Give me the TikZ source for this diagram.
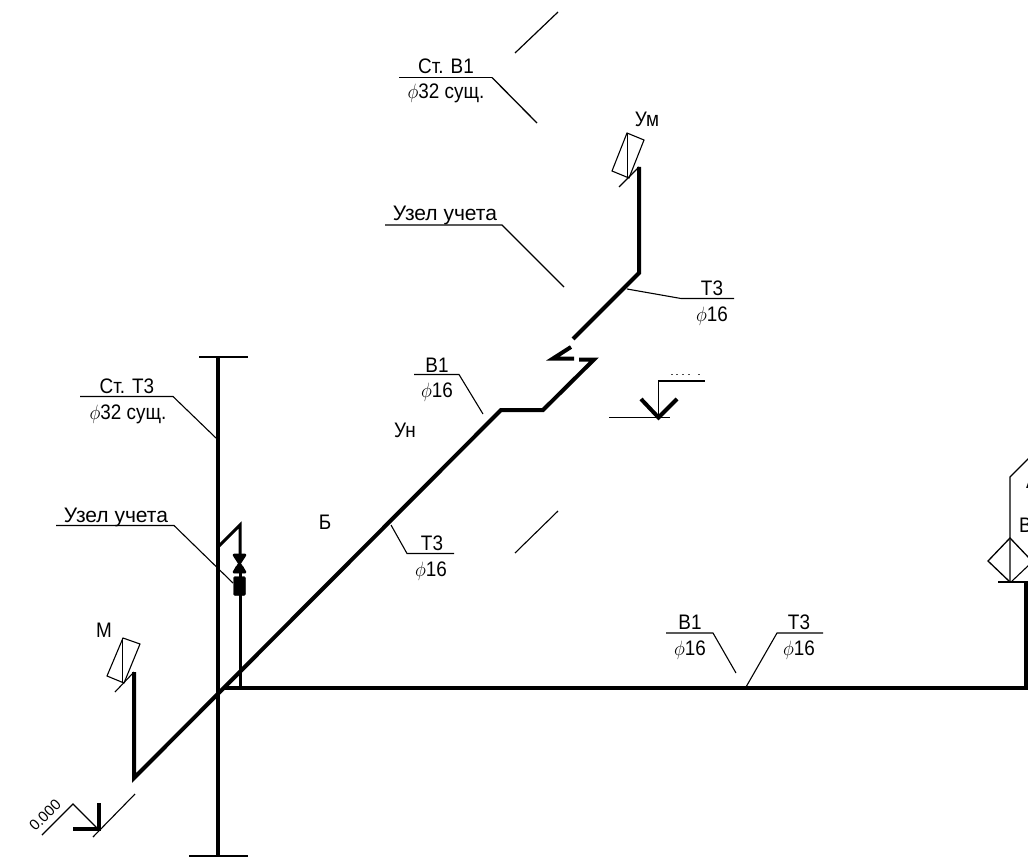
\documentclass[tikz,border=0pt]{standalone}
\usepackage{fontspec}
\setmainfont{Liberation Sans}
\tikzset{
  pipe/.style={line width=4pt,line cap=butt,line join=miter,black},
  branch/.style={line width=3pt,line cap=butt,line join=miter,black},
  leader/.style={line width=1.1pt,black},
  heavy/.style={line width=4pt,black},
  lbl/.style={inner sep=0pt,font=\fontsize{21}{21}\selectfont,xscale=0.9,transform shape,black},
  lblw/.style={inner sep=0pt,font=\fontsize{21}{21}\selectfont,transform shape,black}
}
\begin{document}
\begin{tikzpicture}[x=1pt,y=-1pt]
\useasboundingbox (0,0) rectangle (1028,861);
\clip (0,0) rectangle (1028,861);
% coordinates
\coordinate (stTop) at (218,357);
\coordinate (stBot) at (218,857);
\coordinate (wm) at (134,672);
\coordinate (low) at (134,778);
\coordinate (elb) at (501,410);
\coordinate (elb2) at (543,410);
\coordinate (corner) at (639,273);
\coordinate (topU) at (639,167);
\coordinate (hStart) at (223,688);
\coordinate (hEnd) at (1026,688);
\coordinate (vUp) at (1026,581);
% risers and main pipes
\draw[line width=3.6pt] (stTop) -- (stBot);
\draw[line width=1.4pt] (199,357) -- (248,357);
\draw[line width=1.4pt] (189,856) -- (248,856);
\draw[pipe] (wm) -- (low) -- (elb) -- (elb2) -- (594,359.5) -- (579,359.5);
\draw[pipe] (571,347) -- (553,358.5) -- (574,358.5);
\draw[pipe] (topU) -- (corner) -- (573,339);
\draw[pipe,line width=3.6pt] (hStart) -- (hEnd) -- (vUp);
\draw[branch] (240,688) -- (240,594);
\draw[branch] (240,556) -- (240,525) -- (218,547);
% valve and meter
\node[name=valve,draw,fill=black,minimum width=12pt,minimum height=19pt,inner sep=0pt,rounded corners=1.5pt] at (239.5,586) {};
\fill[black] (234,554) -- (245,554) -- (245,557) -- (241,562) -- (238,562) -- (234,557) -- cycle;
\draw[line width=2.6pt,black,line join=round] (234,555) -- (245,555) -- (234,572) -- (245,572) -- cycle;
\fill[black] (236,566) -- (243,566) -- (246,573) -- (233,573) -- cycle;
\draw[branch] (240,572) -- (240,578);
% M
\draw[leader] (123,638) -- (140,644) -- (124,683) -- (107,676) -- cycle;
\draw[leader] (122.7,638) -- (122.7,682);
\draw[leader] (115,692) -- (134,672);
% Um
\draw[leader] (627,133) -- (644,140) -- (629,178) -- (612,171) -- cycle;
\draw[leader] (627.5,133) -- (627.5,178);
\draw[leader] (619,187) -- (639,167);
% single letters
\node[lbl,name=tM] at (104,630) {М};
\node[lbl,name=tUm] at (647,119) {Ум};
\node[lbl,name=tUn] at (405,430) {Ун};
\node[lbl,name=tB] at (325,522) {Б};
% section marks
\draw[leader,line width=1.2pt] (515,53) -- (558,12);
\draw[leader] (515,553) -- (558,511);
\draw[leader] (135,794) -- (93,837);
% St. V1
\draw[leader] (399,77.5) -- (492,77.5);
\draw[leader,line width=1.3pt] (492,77.5) -- (537,123);
\node[lbl,anchor=base] at (446,74) {Ст. В1};
\node[lbl,anchor=base] at (446,99) {$\phi$32 сущ.};
% node upper
\draw[leader] (385,225) -- (502,225) -- (564,287);
\node[lblw,anchor=base] at (445,221) {Узел учета};
% T3 upper
\draw[leader] (627,289) -- (681,298.5) -- (734,298.5);
\node[lbl,anchor=base] at (712,295) {Т3};
\node[lbl,anchor=base] at (712,321) {$\phi$16};
% V1 mid
\draw[leader] (414,374.5) -- (459,374.5) -- (483,414);
\node[lbl,anchor=base] at (437,372) {В1};
\node[lbl,anchor=base] at (437,397) {$\phi$16};
% T3 mid
\draw[leader] (391,525) -- (407,553.5) -- (454,553.5);
\node[lbl,anchor=base] at (432,550) {Т3};
\node[lbl,anchor=base] at (431,576) {$\phi$16};
% St. T3
\draw[leader] (80,396.5) -- (173,396.5) -- (216,438);
\node[lbl,anchor=base] at (127,393) {Ст. Т3};
\node[lbl,anchor=base] at (128,419) {$\phi$32 сущ.};
% node lower
\draw[leader] (56,525.5) -- (174,525.5) -- (233,583);
\node[lblw,anchor=base] at (116,522) {Узел учета};
% bottom V1 / T3
\draw[leader] (666,633) -- (713,633) -- (736,673);
\node[lbl,anchor=base] at (690,629) {В1};
\node[lbl,anchor=base] at (690,655) {$\phi$16};
\draw[leader] (746,687) -- (777,633) -- (823,633);
\node[lbl,anchor=base] at (799,629) {Т3};
\node[lbl,anchor=base] at (799,655) {$\phi$16};
% elevation mark 0.000
\draw[line width=1.4pt] (42,835) -- (73,804) -- (98,829);
\draw[heavy] (73,829) -- (98.5,829);
\draw[heavy] (98.5,803) -- (98.5,831);
\node[rotate=45,inner sep=0pt,font=\fontsize{15}{15}\selectfont,name=tElev] at (45,815) {0.000};
% elevation mark mid
\draw[leader] (609,417.5) -- (670,417.5);
\draw[leader] (658.5,417) -- (658.5,381) -- (705,381);
\draw[heavy] (641,399) -- (658.5,417.5) -- (677,399);
\foreach \px in {671,676,682,688,698}{\fill[black!70] (\px,373.5) rectangle ++(1.5,1.5);}
% right valve diamond
\draw[line width=1.3pt] (1030,457) -- (1010,477) -- (1010,582);
\draw[line width=1.3pt] (1030,559) -- (1010,538) -- (988,561) -- (1010,582);
\draw[leader] (998,582) -- (1028,582);
\draw[leader] (1011,582) -- (1030,564);
\node[lbl,anchor=base west] at (1019,532) {В};
\node[lbl,anchor=base west] at (1026,488) {А};
\end{tikzpicture}
\end{document}
